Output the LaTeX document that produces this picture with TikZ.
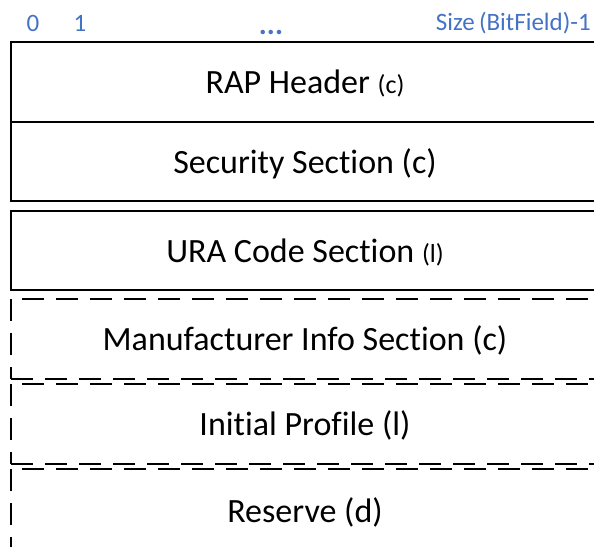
\documentclass[tikz,border=0pt]{standalone}
\usepackage{fontspec}
\setmainfont{Carlito}[Ligatures={NoCommon}]
\definecolor{idxblue}{HTML}{4472C4}
\newcommand\tagsize{\fontsize{26}{30}\selectfont}
\begin{document}
\begin{tikzpicture}[x=1pt,y=-1pt,
  solidedge/.style={line width=2.8pt},
  dashedge/.style={line width=2.5pt, dash pattern=on 22pt off 12pt},
  gapfirst/.style={dashedge, dash phase=23pt},
  title/.style={anchor=base, inner sep=0pt, font=\fontsize{34}{40}\selectfont},
  idx/.style={anchor=base, inner sep=0pt, text=idxblue, font=\fontsize{25}{29}\selectfont}]
\useasboundingbox (0,0) rectangle (594,546);
\clip (0,0) rectangle (594,546);

% bit index labels
\node[idx] (b0) at (33,31) {0};
\node[idx] (b1) at (80,31) {1};
\node[idx, font=\fontsize{30}{34}\bfseries\selectfont] (bdots) at (271,34) {...};
\node[idx, anchor=base east] (blast) at (591,30) {Size\,(BitField)-1};

% solid fields
\draw[solidedge] (11,42) rectangle (620,122);
\draw[solidedge] (11,122) rectangle (620,201);
\draw[solidedge] (11,211) rectangle (620,290);

% dashed fields: top edge, left edge, bottom edge
\draw[gapfirst] (11,299) -- (620,299);
\draw[dashedge] (11,299) -- (11,379);
\draw[dashedge] (11,379) -- (620,379);

\draw[gapfirst] (11,384) -- (620,384);
\draw[dashedge] (11,384) -- (11,464);
\draw[dashedge] (11,464) -- (620,464);

\draw[gapfirst] (11,469) -- (620,469);
\draw[dashedge] (11,469) -- (11,570);

% field names
\node[title] (rap) at (305,93) {RAP Header {\tagsize (c)}};
\node[title] (sec) at (305,173) {Security Section (c)};
\node[title] (ura) at (305,262) {URA Code Section {\tagsize (l)}};
\node[title] (mfr) at (305,350) {Manufacturer Info Section (c)};
\node[title] (ini) at (305,435) {Initial Profile (l)};
\node[title] (res) at (305,522) {Reserve (d)};
\end{tikzpicture}
\end{document}
